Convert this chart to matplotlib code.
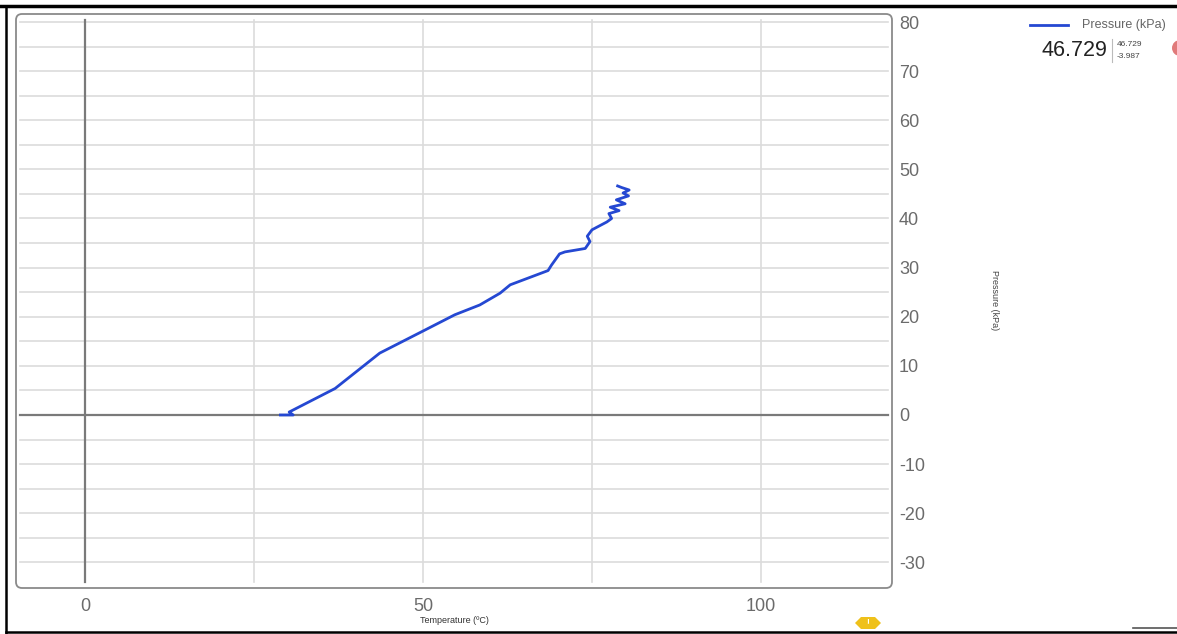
import matplotlib
matplotlib.use('Agg')
import matplotlib.pyplot as plt
from matplotlib.patches import FancyBboxPatch, Ellipse, Polygon
from matplotlib.transforms import IdentityTransform

plt.rcParams['font.family'] = ['Liberation Sans', 'DejaVu Sans']

# ---------------------------------------------------------- data
temperatura = [28.7, 30.8, 30.2, 37.0, 43.6, 50.3, 54.7, 58.4, 61.4, 62.9,
               68.5, 69.0, 70.2, 71.0, 74.0, 74.7, 74.3, 75.0, 77.2, 77.9,
               77.5, 79.0, 77.7, 79.9, 78.6, 80.4, 79.6, 80.5, 79.4, 78.6]
pressao = [0.0, 0.0, 0.6, 5.4, 12.6, 17.3, 20.4, 22.4, 24.8, 26.5,
           29.4, 30.5, 32.8, 33.2, 33.9, 35.3, 36.4, 37.7, 39.3, 40.0,
           41.0, 41.6, 42.3, 43.0, 43.8, 44.6, 45.2, 45.8, 46.3, 46.729]
valor_atual = '46.729'
valor_max = '46.729'
valor_min = '-3.987'
yticks = [-30, -20, -10, 0, 10, 20, 30, 40, 50, 60, 70, 80]
xticks = [0, 50, 100]
grade_x = [0, 25, 50, 75, 100]
grade_y = list(range(-30, 85, 5))

W, H = 1177, 634
fig = plt.figure(figsize=(W / 100, H / 100), dpi=100)
fig.set_facecolor('white')

# area do grafico (pixels da imagem)
L, R, T, B = 16, 892, 14, 588
ax = fig.add_axes([L / W, (H - B) / H, (R - L) / W, (B - T) / H])
ax.set_xlim(-10.21, 119.38)
ax.set_ylim(-35.22, 81.63)
for s in ax.spines.values():
    s.set_visible(False)
ax.patch.set_alpha(0)

# grade
for gy in grade_y:
    ax.axhline(gy, xmin=0.005, xmax=0.995, color='#dcdcdc', lw=1.2, zorder=1)
for gx in grade_x:
    if gx == 0:
        continue
    ax.axvline(gx, ymin=0.01, ymax=0.99, color='#dcdcdc', lw=1.2, zorder=1)
ax.axhline(0, xmin=0.005, xmax=0.995, color='#7a7a7a', lw=1.6, zorder=2)
ax.axvline(0, ymin=0.01, ymax=0.99, color='#7a7a7a', lw=1.6, zorder=2)

ax.plot(temperatura, pressao, color='#2548d2', lw=2.0, zorder=3,
        solid_joinstyle='round', solid_capstyle='butt')

ax.yaxis.tick_right()
ax.set_yticks(yticks)
ax.set_yticklabels([str(v) for v in yticks])
ax.set_xticks(xticks)
ax.set_xticklabels([str(v) for v in xticks])
ax.tick_params(axis='y', length=0, pad=5, labelsize=13, labelcolor='#6b6b6b')
ax.tick_params(axis='x', length=0, pad=7, labelsize=13, labelcolor='#6b6b6b')
ax.set_xlabel('Temperature (ºC)', fontsize=6.5, color='#333333', labelpad=1)

# moldura arredondada
moldura = FancyBboxPatch((L, H - B), R - L, B - T, boxstyle='round,pad=0,rounding_size=6',
                         fc='none', ec='#8a8a8a', lw=1.3, transform=IdentityTransform())
fig.add_artist(moldura)

# rotulo do eixo direito
fig.text(995 / W, 1 - 300 / H, 'Pressure (kPa)', rotation=-90, fontsize=6.5,
         color='#444444', ha='center', va='center')

# legenda
fig.add_artist(plt.Line2D([1030 / W, 1068 / W], [1 - 25 / H, 1 - 25 / H], color='#2548d2', lw=2))
fig.text(1082 / W, 1 - 25 / H, 'Pressure (kPa)', fontsize=9, color='#666666', va='center')
fig.text(1107 / W, 1 - 50 / H, valor_atual, fontsize=15.5, color='#222222', va='center', ha='right')
fig.add_artist(plt.Line2D([1112 / W, 1112 / W], [1 - 39 / H, 1 - 62 / H], color='#bbbbbb', lw=0.8))
fig.text(1117 / W, 1 - 44 / H, valor_max, fontsize=6, color='#444444', va='center')
fig.text(1117 / W, 1 - 56 / H, valor_min, fontsize=6, color='#444444', va='center')

# circulo vermelho cortado na borda
fig.add_artist(Ellipse((1180, H - 48), 16, 16, fc='#e07a7a', ec='none', transform=IdentityTransform()))

# marcador amarelo (hexagono achatado)
cx, cy = 868, H - 623
hexa = Polygon([(cx - 13, cy), (cx - 7, cy + 6), (cx + 7, cy + 6), (cx + 13, cy),
                (cx + 7, cy - 6), (cx - 7, cy - 6)], closed=True,
               fc='#efc11a', ec='none', transform=IdentityTransform())
fig.add_artist(hexa)
fig.text(868 / W, 1 - 623 / H, '!', fontsize=6, color='white', ha='center', va='center', weight='bold')

# bordas pretas da captura
fig.add_artist(plt.Line2D([0, 1], [1 - 5.5 / H, 1 - 5.5 / H], color='black', lw=2.5))
fig.add_artist(plt.Line2D([6 / W, 6 / W], [0, 1 - 5.5 / H], color='black', lw=1.8))
fig.add_artist(plt.Line2D([6 / W, 1], [1 - 632 / H, 1 - 632 / H], color='black', lw=1.8))
fig.add_artist(plt.Line2D([1133 / W, 1], [1 - 628 / H, 1 - 628 / H], color='#555555', lw=1.2))

fig.savefig('out.png', dpi=100, facecolor='white')
